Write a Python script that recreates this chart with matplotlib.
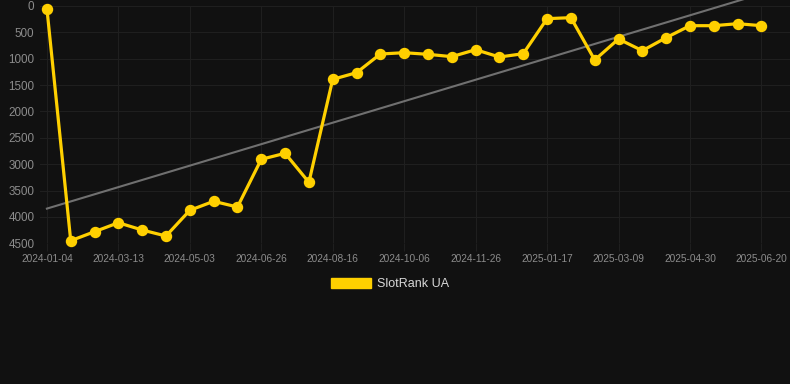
import matplotlib
matplotlib.use("Agg")
import matplotlib.pyplot as plt
import numpy as np

dates = ["2024-01-04", "2024-01-27", "2024-02-19", "2024-03-13", "2024-03-30",
         "2024-04-16", "2024-05-03", "2024-05-21", "2024-06-08", "2024-06-26",
         "2024-07-13", "2024-07-30", "2024-08-16", "2024-09-02", "2024-09-19",
         "2024-10-06", "2024-10-23", "2024-11-09", "2024-11-26", "2024-12-13",
         "2024-12-31", "2025-01-17", "2025-02-03", "2025-02-20", "2025-03-09",
         "2025-03-26", "2025-04-13", "2025-04-30", "2025-05-17", "2025-06-03",
         "2025-06-20"]
ranks = [50, 4451, 4280, 4110, 4248, 4362, 3875, 3704, 3812, 2908,
         2794, 3344, 1392, 1266, 912, 887, 918, 962, 830, 969,
         906, 242, 223, 1025, 627, 849, 602, 375, 375, 337, 375]
series_name = "SlotRank UA"
yticks = [0, 500, 1000, 1500, 2000, 2500, 3000, 3500, 4000, 4500]

bg = "#111111"
grid_c = "#1f1f1f"
tick_c = "#8c8c8c"
gold = "#FFD000"

fig = plt.figure(figsize=(7.9, 3.84), dpi=100, facecolor=bg)
ax = fig.add_axes([40/790, 1-243.3/384, 1-40/790, (243.3-5.9)/384])
ax.set_facecolor(bg)

x = np.arange(len(ranks))
coef = np.polyfit(x, ranks, 1)
ax.plot(x, np.polyval(coef, x), color="#707070", lw=1.5, zorder=2, clip_on=False)
ax.plot(x, ranks, color=gold, lw=2.3, marker="o", ms=7.2, zorder=3,
        clip_on=False, label=series_name)

ax.set_xlim(-0.29, 31.2)
ax.set_ylim(4500, 0)
ax.set_yticks(yticks)
ax.set_yticklabels([str(v) for v in yticks])
ax.set_xticks(x[::3])
ax.set_xticklabels([dates[i] for i in x[::3]])

for s in ax.spines.values():
    s.set_visible(False)
ax.grid(True, color=grid_c, lw=0.8)
ax.tick_params(axis="y", length=0, pad=4, labelsize=8.4, labelcolor=tick_c,
               labelfontfamily="Liberation Sans")
ax.tick_params(axis="x", length=6, color=grid_c, width=0.8, pad=2,
               labelsize=7.3, labelcolor=tick_c, labelfontfamily="Liberation Sans")

leg = fig.legend(handles=[plt.Rectangle((0, 0), 1, 1, color=gold)],
                 labels=[series_name], loc="center", bbox_to_anchor=(390/790, 1-284/384),
                 frameon=False, handlelength=3.2, handleheight=0.9, handletextpad=0.5,
                 prop={"family": "Liberation Sans", "size": 9})
for t in leg.get_texts():
    t.set_color("#d8d8d8")

fig.savefig("out.png", dpi=100, facecolor=bg)
